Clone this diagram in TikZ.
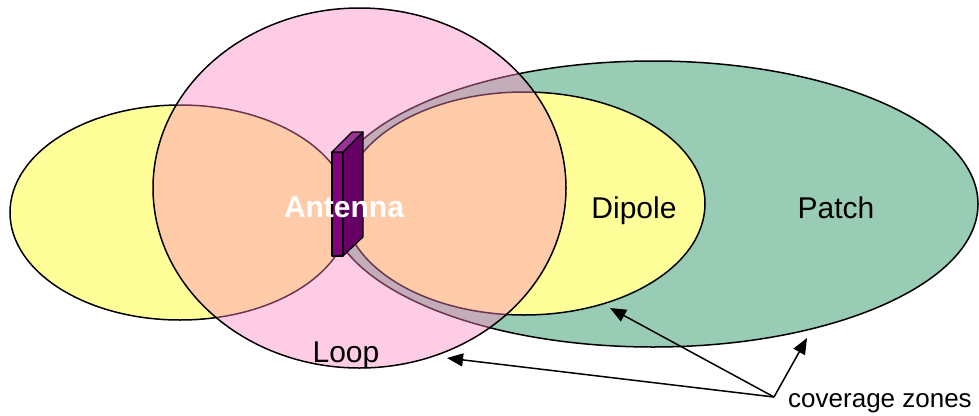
\documentclass[tikz,border=0pt]{standalone}
\usepackage{fontspec}
\setmainfont{Liberation Sans}
\usetikzlibrary{shapes.geometric,arrows.meta}
\definecolor{zyellow}{RGB}{255,255,153}
\definecolor{zgreen}{RGB}{153,204,180}
\definecolor{zpink}{RGB}{255,131,194}
\definecolor{afront}{RGB}{128,0,128}
\definecolor{aside}{RGB}{102,0,102}
\definecolor{atop}{RGB}{153,51,153}
\tikzset{
  zone/.style={ellipse, draw=black, line width=1.5pt, inner sep=0pt, outer sep=0pt},
  lbl/.style={font=\fontsize{30}{36}\selectfont, anchor=base, inner sep=0pt},
  face/.style={draw=black, line width=1.2pt, line join=round},
  pointer/.style={line width=1.5pt, -{Triangle[length=16pt,width=13pt]}},
}
\begin{document}
\begin{tikzpicture}[x=1pt,y=-1pt]
\useasboundingbox (0,0) rectangle (979,415);
% zones
\node[zone, fill=zgreen, minimum width=650pt, minimum height=286pt] (patch) at (653,204) {};
\node[zone, fill=zyellow, minimum width=340pt, minimum height=215pt] (left) at (180,212.5) {};
\node[zone, fill=zyellow, minimum width=362pt, minimum height=223pt] (dipole) at (524,203.5) {};
\node[zone, fill=zpink, fill opacity=0.41, minimum width=413pt, minimum height=360pt] (loop) at (359.5,188) {};
% antenna
\draw[face, fill=afront] (332,152) -- (343,152) -- (343,256) -- (332,256) -- cycle;
\draw[face, fill=aside] (343,152) -- (363,132) -- (363,237) -- (343,256) -- cycle;
\draw[face, fill=atop] (332,152) -- (352,132) -- (363,132) -- (343,152) -- cycle;
% labels
\node[lbl, text=white, font=\fontsize{30}{36}\selectfont\bfseries] (antlbl) at (344,217) {Antenna};
\node[lbl] (diplbl) at (634,218) {Dipole};
\node[lbl] (patlbl) at (836,218) {Patch};
\node[lbl] (looplbl) at (346,362) {Loop};
\node[lbl, font=\fontsize{26}{31}\selectfont] (cov) at (880,407) {coverage zones};
% pointers
\coordinate (src) at (774,397);
\coordinate (tloop) at (447,358);
\coordinate (tdip) at (610,308);
\coordinate (tpat) at (807,338);
\draw[pointer] (src) -- (tloop);
\draw[pointer] (src) -- (tdip);
\draw[pointer] (src) -- (tpat);
\end{tikzpicture}
\end{document}
